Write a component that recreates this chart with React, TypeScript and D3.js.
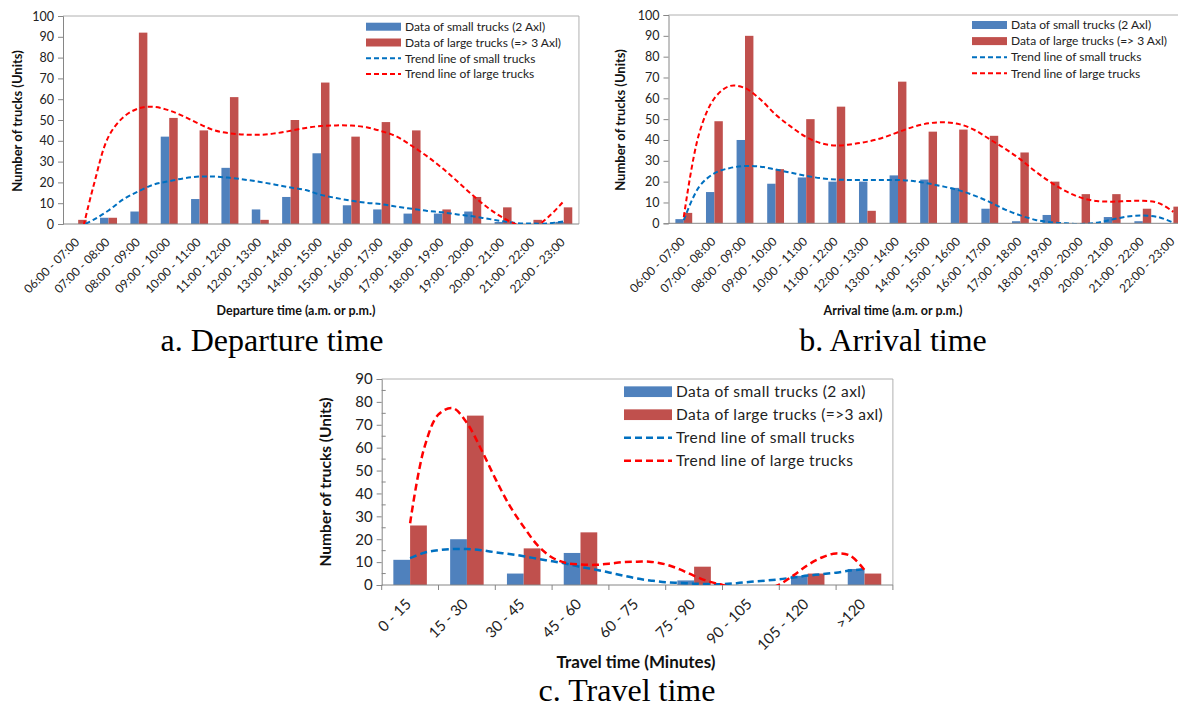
import React, { useEffect, useRef } from "react";
import * as d3 from "d3";

// hour slots (panels a and b)
const timeSlots = [
  "06:00 - 07:00", "07:00 - 08:00", "08:00 - 09:00", "09:00 - 10:00", "10:00 - 11:00",
  "11:00 - 12:00", "12:00 - 13:00", "13:00 - 14:00", "14:00 - 15:00", "15:00 - 16:00",
  "16:00 - 17:00", "17:00 - 18:00", "18:00 - 19:00", "19:00 - 20:00", "20:00 - 21:00",
  "21:00 - 22:00", "22:00 - 23:00",
];
const departSmall = [0, 3, 6, 42, 12, 27, 7, 13, 34, 9, 7, 5, 5, 6, 1, 0, 1];
const departLarge = [2, 3, 92, 51, 45, 61, 2, 50, 68, 42, 49, 45, 7, 13, 8, 2, 8];
const arriveSmall = [2, 15, 40, 19, 22, 20, 20, 23, 21, 17, 7, 1, 4, 0, 3, 1, 0];
const arriveLarge = [5, 49, 90, 26, 50, 56, 6, 68, 44, 45, 42, 34, 20, 14, 14, 7, 8];

// travel time bins (panel c)
const travelBins = ["0 - 15", "15 - 30", "30 - 45", "45 - 60", "60 - 75", "75 - 90", "90 - 105", "105 - 120", ">120"];
const travelSmall = [11, 20, 5, 14, 0, 2, 0, 4, 7];
const travelLarge = [26, 74, 16, 23, 0, 8, 0, 5, 5];

const departTrendSmall = [-1.5, 2, 6.5, 12, 15.8, 19, 20.6, 22, 22.8, 22.8, 22.2, 21.3, 20.2, 18.9, 17.5, 16.3, 14, 12.5, 11.2, 10.2, 9.5, 8.3, 7.3, 6.3, 5.6, 4.6, 3.7, 2.5, 1.3, 0.4, 0.2, 0.3, 1.3];
const departTrendLarge = [-12, 18, 42, 51.5, 55.6, 56.3, 54.6, 51.6, 48, 45, 43.6, 43, 42.9, 43.6, 44.8, 46.2, 47.1, 47.4, 47.3, 46.5, 44.6, 42, 37.5, 32.5, 26.8, 20.4, 13.8, 7.8, 3, -0.5, -1.5, 3.5, 11];
const arriveTrendSmall = [1.5, 17.5, 24, 26.5, 27.5, 27.2, 25.8, 24.3, 22.8, 21.6, 21, 20.8, 20.8, 20.8, 20.8, 20.3, 19.1, 17.6, 15.8, 13.3, 10.2, 6.6, 3.8, 1.6, 0.5, 0, -0.3, 0.3, 1.8, 3.3, 3.7, 3, 0.3];
const arriveTrendLarge = [3, 43, 60, 65.9, 64.9, 59.5, 52.2, 46.4, 41.4, 38.4, 37.3, 38, 39.2, 41.1, 43.7, 46.3, 48, 48.5, 47.6, 44.8, 40.3, 35.8, 30.7, 24.8, 19.6, 15.3, 12.2, 10.7, 10.4, 10.7, 10.8, 9.8, 5.5];
const travelTrendSmall = [11.7, 14.1, 15.2, 15.7, 15.7, 15.2, 14.3, 13.5, 12.6, 11.4, 10.4, 9.3, 7.9, 6.8, 5.5, 4.1, 2.8, 1.9, 1.2, 0.9, 0.6, 0.4, 0.4, 0.8, 1.4, 1.9, 2.5, 3.3, 4.1, 4.7, 5.4, 6.3, 7];
const travelTrendLarge = [27, 60, 74.5, 77.3, 70.8, 59.3, 46.5, 34.8, 25.4, 17.2, 12, 9.6, 9, 8.8, 9.3, 10, 10.2, 10.1, 9, 6.8, 4, 1.6, 0, -1.8, -2.8, -2, 0.2, 4.2, 8.7, 12, 13.8, 12.8, 6.5];

const legendTimes = ["Data of small trucks (2 Axl)", "Data of large trucks (=> 3 Axl)", "Trend line of small trucks", "Trend line of large trucks"];
const legendTravel = ["Data of small trucks (2 axl)", "Data of large trucks (=>3 axl)", "Trend line of small trucks", "Trend line of large trucks"];

const W = 1178, H = 707;
const BLUE = "#4F81BD", RED = "#C0504D", TBLUE = "#0070C0", TRED = "#FF0000";
const AXIS = "#868686", BORDER = "#B0B0B0";
const SANS = "Lato, 'Noto Sans', sans-serif";

function drawPanel(svg, p) {
  const g = svg.append("g");
  const n = p.cats.length;
  const x = d3.scaleBand().domain(p.cats).range([p.left, p.left + n * p.catW]).padding(0);
  const y = d3.scaleLinear().domain([0, p.yMax]).range([p.bottom, p.top]);
  const right = p.left + n * p.catW;
  const half = x.bandwidth() / 2;
  const barW = (p.catW * p.groupFrac) / 2;

  // plot area border (top + right)
  g.append("line").attr("x1", p.left).attr("x2", Math.min(right, W)).attr("y1", p.top).attr("y2", p.top)
    .attr("stroke", BORDER);
  if (right < W) g.append("line").attr("x1", right).attr("x2", right).attr("y1", p.top).attr("y2", p.bottom).attr("stroke", BORDER);

  // bars
  const rows = p.cats.map((c, i) => ({ c, s: p.small[i], l: p.large[i] }));
  g.selectAll(".bs").data(rows).join("rect").attr("class", "bs")
    .attr("x", d => x(d.c) + half - barW).attr("y", d => y(d.s))
    .attr("width", barW).attr("height", d => y(0) - y(d.s)).attr("fill", BLUE);
  g.selectAll(".bl").data(rows).join("rect").attr("class", "bl")
    .attr("x", d => x(d.c) + half).attr("y", d => y(d.l))
    .attr("width", barW).attr("height", d => y(0) - y(d.l)).attr("fill", RED);

  // y axis
  const ya = g.append("g").attr("transform", `translate(${p.left},0)`)
    .call(d3.axisLeft(y).tickValues(d3.range(0, p.yMax + 1, p.yStep)).tickSize(5).tickPadding(4));
  ya.select(".domain").attr("stroke", AXIS);
  ya.selectAll(".tick line").attr("stroke", AXIS);
  ya.selectAll("text").attr("font-family", SANS).attr("font-size", p.yFont).attr("fill", "#222");
  if (p.minor) {
    g.selectAll(".minor").data(d3.range(p.yStep / 2, p.yMax, p.yStep)).join("line").attr("class", "minor")
      .attr("x1", p.left).attr("x2", p.left + 4).attr("y1", d => y(d)).attr("y2", d => y(d)).attr("stroke", AXIS);
  }

  // x axis
  g.append("line").attr("x1", p.left).attr("x2", Math.min(right, W)).attr("y1", p.bottom).attr("y2", p.bottom)
    .attr("stroke", AXIS);
  if (p.xTicks) {
    g.selectAll(".xt").data(d3.range(0, n + 1)).join("line").attr("class", "xt")
      .attr("x1", i => p.left + i * p.catW).attr("x2", i => p.left + i * p.catW)
      .attr("y1", p.bottom).attr("y2", p.bottom + 5).attr("stroke", AXIS);
  }
  g.selectAll(".xl").data(p.cats).join("text").attr("class", "xl")
    .attr("transform", c => `translate(${x(c) + half + p.lblDx},${p.bottom + p.lblDy}) rotate(-45)`)
    .attr("text-anchor", "end").attr("font-family", SANS).attr("font-size", p.xFont).attr("fill", "#222")
    .text(c => c);

  // trend lines
  const clipId = `clip-${p.id}`;
  svg.append("clipPath").attr("id", clipId).append("rect")
    .attr("x", p.left).attr("y", p.top).attr("width", right - p.left).attr("height", p.bottom - p.top);
  const xt = d3.scaleLinear().domain([0, n - 1]).range([x(p.cats[0]) + half, x(p.cats[n - 1]) + half]);
  const line = d3.line().x(d => xt(d[0])).y(d => y(d[1])).curve(d3.curveCatmullRom.alpha(0.5));
  [[p.trendSmall, TBLUE], [p.trendLarge, TRED]].forEach(([vals, col]) => {
    g.append("path").attr("clip-path", `url(#${clipId})`)
      .attr("d", line(vals.map((v, i) => [i * p.trendStep, v])))
      .attr("fill", "none").attr("stroke", col).attr("stroke-width", p.trendW).attr("stroke-dasharray", p.dash);
  });

  // legend
  const lg = p.legend;
  p.legendLabels.forEach((txt, i) => {
    const cy = lg.y + i * lg.gap;
    if (i < 2) {
      g.append("rect").attr("x", lg.x).attr("y", cy - lg.sh / 2).attr("width", lg.sw).attr("height", lg.sh)
        .attr("fill", i === 0 ? BLUE : RED);
    } else {
      g.append("line").attr("x1", lg.x).attr("x2", lg.x + lg.sw).attr("y1", cy).attr("y2", cy)
        .attr("stroke", i === 2 ? TBLUE : TRED).attr("stroke-width", p.trendW).attr("stroke-dasharray", p.dash);
    }
    g.append("text").attr("x", lg.x + lg.sw + 4).attr("y", cy).attr("dy", "0.35em")
      .attr("font-family", SANS).attr("font-size", lg.font).attr("letter-spacing", lg.ls || 0)
      .attr("fill", "#222").text(txt);
  });

  // axis titles
  g.append("text").attr("transform", `translate(${p.yTitle.x},${p.yTitle.y}) rotate(-90)`)
    .attr("text-anchor", "middle").attr("font-family", SANS).attr("font-weight", "bold")
    .attr("font-size", p.yTitle.font).attr("fill", "#111").text("Number of trucks (Units)");
  g.append("text").attr("x", p.xTitle.x).attr("y", p.xTitle.y).attr("text-anchor", "middle")
    .attr("font-family", SANS).attr("font-weight", "bold").attr("font-size", p.xTitle.font).attr("fill", "#111")
    .text(p.xTitle.text);

  // caption
  g.append("text").attr("x", p.caption.x).attr("y", p.caption.y).attr("text-anchor", "middle")
    .attr("font-family", "'Liberation Serif', 'Times New Roman', serif").attr("font-size", 32).attr("fill", "#000")
    .text(p.caption.text);
}

export default function App() {
  const ref = useRef(null);

  useEffect(() => {
    document.body.style.margin = "0";
    const svg = d3.select(ref.current);
    svg.selectAll("*").remove();
    svg.append("rect").attr("width", W).attr("height", H).attr("fill", "#fff");

    drawPanel(svg, {
      id: "a", cats: timeSlots, small: departSmall, large: departLarge,
      trendSmall: departTrendSmall, trendLarge: departTrendLarge, trendStep: 0.5,
      left: 63, catW: 30.35, top: 16, bottom: 224, yMax: 100, yStep: 10, groupFrac: 0.56,
      yFont: 12.5, xFont: 12, lblDx: 2, lblDy: 19, trendW: 2, dash: "5,3",
      legendLabels: legendTimes, legend: { x: 366, y: 26.7, gap: 15.8, sw: 35, sh: 8, font: 12 },
      yTitle: { x: 22, y: 121, font: 13 },
      xTitle: { x: 296, y: 315, font: 12.5, text: "Departure time (a.m. or p.m.)" },
      caption: { x: 272, y: 351, text: "a. Departure time" },
    });

    drawPanel(svg, {
      id: "b", cats: timeSlots, small: arriveSmall, large: arriveLarge,
      trendSmall: arriveTrendSmall, trendLarge: arriveTrendLarge, trendStep: 0.5,
      left: 668.5, catW: 30.6, top: 15, bottom: 223.3, yMax: 100, yStep: 10, groupFrac: 0.55,
      yFont: 12.5, xFont: 12, lblDx: 2, lblDy: 19, trendW: 2, dash: "5,3",
      legendLabels: legendTimes, legend: { x: 972, y: 25, gap: 16.1, sw: 35, sh: 8, font: 12 },
      yTitle: { x: 625, y: 120, font: 13 },
      xTitle: { x: 893, y: 315, font: 12.5, text: "Arrival time (a.m. or p.m.)" },
      caption: { x: 893, y: 351, text: "b. Arrival time" },
    });

    drawPanel(svg, {
      id: "c", cats: travelBins, small: travelSmall, large: travelLarge,
      trendSmall: travelTrendSmall, trendLarge: travelTrendLarge, trendStep: 0.25,
      left: 381.7, catW: 56.8, top: 379, bottom: 585, yMax: 90, yStep: 10, groupFrac: 0.59, minor: true, xTicks: true,
      yFont: 15, xFont: 15, lblDx: 2, lblDy: 20, trendW: 2.5, dash: "7,4",
      legendLabels: legendTravel, legend: { x: 624, y: 391.7, gap: 23, sw: 48, sh: 10.7, font: 15.5, ls: 0.4 },
      yTitle: { x: 331, y: 482, font: 15.5 },
      xTitle: { x: 636, y: 668, font: 17, text: "Travel time (Minutes)" },
      caption: { x: 627, y: 701, text: "c. Travel time" },
    });
  }, []);

  return <svg ref={ref} width={W} height={H} style={{ display: "block" }}></svg>;
}
